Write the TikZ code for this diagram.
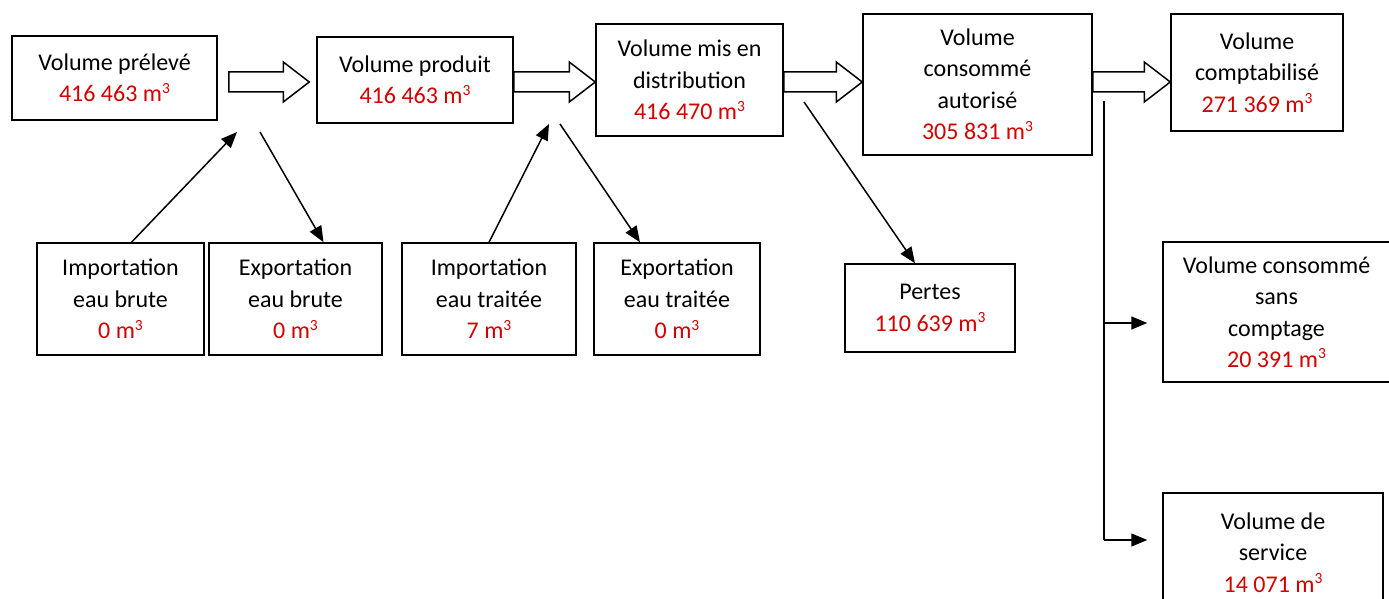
\documentclass[tikz,border=0pt]{standalone}
\usepackage{fontspec}
\setmainfont{Carlito}
\usetikzlibrary{calc, arrows.meta}

\definecolor{volred}{RGB}{210,0,0}
\tikzset{
    box/.style={draw, line width=1.5pt, align=center, inner sep=0pt,
        font=\fontsize{24}{31.5}\selectfont},
    flow/.style={draw, line width=1.5pt, line join=miter},
    feed/.style={line width=1.5pt, -{Triangle[length=16pt,width=13pt]}},
}
% red volume line under a label
\newcommand{\vol}[1]{\\\textcolor{volred}{#1 m\raisebox{0.36em}{\fontsize{15.5}{15.5}\selectfont 3}}}
% hollow block arrow from #1 to #2 (tip)
\newcommand{\bigarrow}[2]{%
    \draw[flow] let \p1=(#1), \p2=(#2) in
        (\x1,\y1+10pt) -- (\x2-26pt,\y1+10pt) -- (\x2-26pt,\y1+20pt) -- (\x2,\y1)
        -- (\x2-26pt,\y1-20pt) -- (\x2-26pt,\y1-10pt) -- (\x1,\y1-10pt) -- cycle;}

\begin{document}
\begin{tikzpicture}[x=1pt, y=-1pt]
    \useasboundingbox (0,0) rectangle (1389,599);

    % Main chain of volumes
    \node[box, minimum width=205, minimum height=84] (prel) at (114.5,78) {Volume prélevé\vol{416 463}};
    \node[box, minimum width=196, minimum height=86] (prod) at (415,80) {Volume produit\vol{416 463}};
    \node[box, minimum width=187, minimum height=112] (dist) at (689.5,80) {Volume mis en\\distribution\vol{416 470}};
    \node[box, minimum width=229, minimum height=141] (auto) at (977.5,84.5) {Volume\\consommé\\autorisé\vol{305 831}};
    \node[box, minimum width=172, minimum height=117] (compt) at (1257,72.5) {Volume\\comptabilisé\vol{271 369}};

    % Imports and exports
    \node[box, minimum width=167, minimum height=112] (impb) at (120.5,299) {Importation\\eau brute\vol{0}};
    \node[box, minimum width=173, minimum height=112] (expb) at (295.5,299) {Exportation\\eau brute\vol{0}};
    \node[box, minimum width=174, minimum height=112] (impt) at (489,299) {Importation\\eau traitée\vol{7}};
    \node[box, minimum width=166, minimum height=112] (expt) at (677,299) {Exportation\\eau traitée\vol{0}};

    % Losses and other uses
    \node[box, minimum width=170, minimum height=88] (pertes) at (930,308) {Pertes\vol{110 639}};
    \node[box, minimum width=227, minimum height=140] (sans) at (1276.5,312) {Volume consommé\\sans\\comptage\vol{20 391}};
    \node[box, minimum width=220, minimum height=119] (serv) at (1273,552.5) {Volume de\\service\vol{14 071}};

    % Hollow arrows along the chain
    \coordinate (row) at (0,82);
    \bigarrow{$(prel.east |- row)+(11,0)$}{$(prod.west |- row)+(-7,0)$}
    \bigarrow{prod.east |- row}{dist.west |- row}
    \bigarrow{dist.east |- row}{auto.west |- row}
    \bigarrow{auto.east |- row}{compt.west |- row}

    % Thin arrows in and out
    \coordinate (inb) at (237,132);
    \coordinate (outb) at (260,132);
    \coordinate (intr) at (549,124);
    \coordinate (outtr) at (560,124);
    \coordinate (loss) at (804,102);
    \draw[feed] ($(impb.north)+(11,0)$) -- (inb);
    \draw[feed] (outb) -- ($(expb.north)+(28,0)$);
    \draw[feed] (impt.north) -- (intr);
    \draw[feed] (outtr) -- ($(expt.north)+(-37,0)$);
    \draw[feed] (loss) -- ($(pertes.north)+(-15,0)$);

    % Split of the authorised volume
    \coordinate (tap) at (1104,101);
    \coordinate (split1) at (1104,323);
    \coordinate (split2) at (1104,540);
    \draw[line width=1.5pt] (tap) -- (split2);
    \draw[feed, shorten >=15pt] (split1) -- (sans.west |- split1);
    \draw[feed, shorten >=15pt] (split2) -- (serv.west |- split2);
\end{tikzpicture}
\end{document}
